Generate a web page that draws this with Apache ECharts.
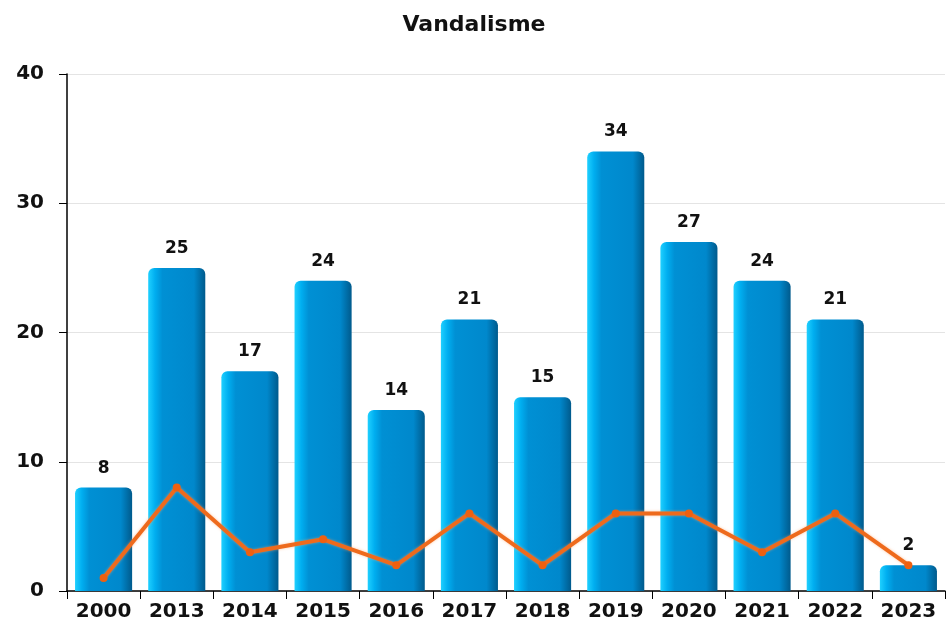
<!DOCTYPE html>
<html>
<head>
<meta charset="utf-8">
<script src="https://cdn.jsdelivr.net/npm/echarts@6/dist/echarts.min.js"></script>
<style>
  html, body { margin: 0; padding: 0; background: #fff; }
  #chart { width: 948px; height: 627px; }
</style>
</head>
<body>
<div id="chart"></div>
<script>
  var years = ['2000', '2013', '2014', '2015', '2016', '2017', '2018', '2019', '2020', '2021', '2022', '2023'];
  var barValues = [8, 25, 17, 24, 14, 21, 15, 34, 27, 24, 21, 2];
  var lineValues = [1, 8, 3, 4, 2, 6, 2, 6, 6, 3, 6, 2];
  var yTicks = [0, 10, 20, 30, 40];

  var font = 'DejaVu Sans';

  var barColor = new echarts.graphic.LinearGradient(0, 0, 1, 0, [
    { offset: 0, color: '#1fd0ff' },
    { offset: 0.12, color: '#00aef0' },
    { offset: 0.25, color: '#0090d4' },
    { offset: 0.8, color: '#0088cc' },
    { offset: 1, color: '#005a8c' }
  ]);

  var option = {
    animation: false,
    title: {
      text: 'Vandalisme',
      left: 'center',
      top: 9,
      textStyle: { fontFamily: font, fontSize: 22, fontWeight: 'bold', color: '#111' }
    },
    grid: { left: 67, right: 3, top: 74, bottom: 36 },
    xAxis: {
      type: 'category',
      data: years,
      axisLine: { lineStyle: { color: '#000', width: 1.5 } },
      axisTick: { show: true, length: 8, lineStyle: { color: '#000' } },
      axisLabel: { interval: 0, fontFamily: font, fontSize: 20, fontWeight: 'bold', color: '#111', margin: 11 }
    },
    yAxis: {
      type: 'value',
      min: yTicks[0],
      max: yTicks[yTicks.length - 1],
      interval: 10,
      axisLine: { show: true, lineStyle: { color: '#000', width: 1.5 } },
      axisTick: { show: true, length: 8, lineStyle: { color: '#000' } },
      splitLine: { lineStyle: { color: '#e4e4e4' } },
      axisLabel: { fontFamily: font, fontSize: 20, fontWeight: 'bold', color: '#111', margin: 23 }
    },
    series: [
      {
        type: 'bar',
        data: barValues,
        barCategoryGap: '22%',
        itemStyle: { color: barColor, borderRadius: [6, 6, 0, 0] },
        label: {
          show: true,
          position: 'top',
          distance: 11,
          fontFamily: font,
          fontSize: 17,
          fontWeight: 'bold',
          color: '#111'
        }
      },
      {
        type: 'line',
        data: lineValues,
        symbol: 'circle',
        symbolSize: 8,
        lineStyle: { color: '#ee6a1c', width: 4, shadowColor: 'rgba(255,160,100,0.6)', shadowBlur: 3 },
        itemStyle: { color: '#ee6010' },
        z: 5
      }
    ]
  };

  var chart = echarts.init(document.getElementById('chart'));
  chart.setOption(option);
</script>
</body>
</html>
